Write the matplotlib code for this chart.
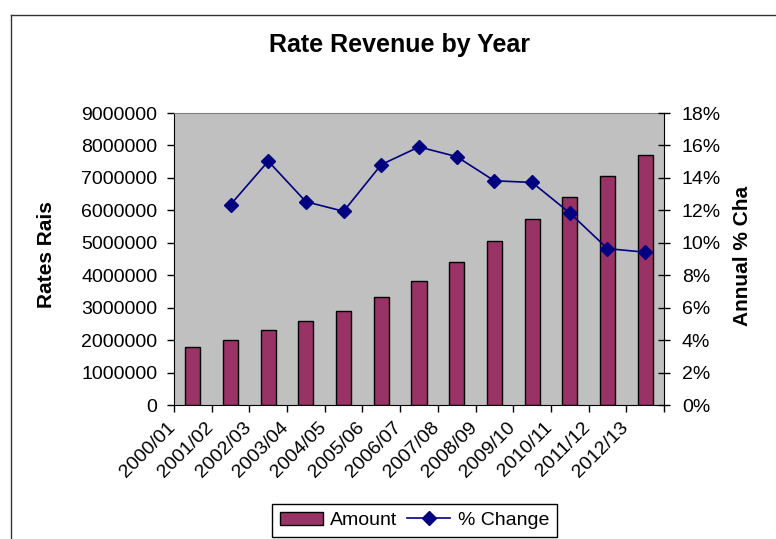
import numpy as np
import matplotlib
matplotlib.use('Agg')
import matplotlib.pyplot as plt
from matplotlib.lines import Line2D
from matplotlib.ticker import FuncFormatter
from matplotlib.transforms import ScaledTranslation

plt.rcParams['font.family'] = ['Liberation Sans', 'DejaVu Sans']

years = ['2000/01', '2001/02', '2002/03', '2003/04', '2004/05', '2005/06', '2006/07',
         '2007/08', '2008/09', '2009/10', '2010/11', '2011/12', '2012/13']
amount = [1790000, 2000000, 2300000, 2600000, 2900000, 3340000, 3830000,
          4420000, 5040000, 5730000, 6420000, 7060000, 7710000]
# % change starts at the second year
pct_change = [12.35, 15.03, 12.53, 11.94, 14.82, 15.91, 15.31, 13.82, 13.72, 11.84, 9.64, 9.42]

W, H = 776, 539
fig = plt.figure(figsize=(W / 100, H / 100), dpi=100)
ax = fig.add_axes([174 / W, 1 - 405 / H, 490 / W, 292 / H])
ax.set_facecolor('#C0C0C0')

x = np.arange(len(years))
bars = ax.bar(x, amount, width=0.4, color='#993366', edgecolor='black', lw=1,
              label='Amount', zorder=2)
ax.set_xlim(-0.5, len(years) - 0.5)
ax.set_ylim(0, 9000000)
ax.set_yticks(np.arange(0, 9000001, 1000000))
ax.yaxis.set_major_formatter(FuncFormatter(lambda v, p: f'{int(v)}'))
ax.tick_params(axis='y', direction='out', length=5, width=1, labelsize=14, pad=7)

# ticks at category boundaries, labels hung from them
ax.set_xticks(np.arange(-0.5, len(years), 1))
ax.set_xticklabels(years + [''], rotation=45, ha='right', va='top', fontsize=14)
ax.tick_params(axis='x', direction='out', length=5, width=1, pad=5)
off = ScaledTranslation(5 / 100, 0, fig.dpi_scale_trans)
for lab in ax.get_xticklabels():
    lab.set_transform(lab.get_transform() + off)

ax.spines['top'].set_color('#808080')
ax.spines['right'].set_visible(False)
ax.spines['left'].set_color('black')
ax.spines['bottom'].set_color('black')

ax2 = ax.twinx()
line, = ax2.plot(x[1:], pct_change, color='#000080', marker='D', ms=7, lw=1.2,
                 label='% Change', zorder=3)
ax2.set_ylim(0, 18)
ax2.set_yticks(np.arange(0, 19, 2))
ax2.yaxis.set_major_formatter(FuncFormatter(lambda v, p: f'{v:.0f}%'))
ax2.tick_params(axis='y', direction='inout', length=8.6, width=1, labelsize=14, pad=8.6)
for s in ['top', 'left', 'bottom']:
    ax2.spines[s].set_visible(False)
ax2.spines['right'].set_color('black')

fig.text(400 / W, 1 - 45 / H, 'Rate Revenue by Year', ha='center', va='center',
         fontsize=18, fontweight='bold')
fig.text(47 / W, 1 - 255 / H, 'Rates Rais', rotation=90, ha='center', va='center',
         fontsize=15, fontweight='bold')
fig.text(743 / W, 1 - 256 / H, 'Annual % Cha', rotation=90, ha='center', va='center',
         fontsize=15, fontweight='bold')

leg = fig.legend([bars, line], ['Amount', '% Change'], loc='upper left',
                 bbox_to_anchor=(272 / W, 1 - 504 / H), ncol=2, fontsize=14,
                 frameon=True, fancybox=False, edgecolor='black', framealpha=1,
                 handlelength=2.2, handleheight=0.67, handletextpad=0.4,
                 columnspacing=0.5, borderaxespad=0, borderpad=0.4)
leg.get_frame().set_linewidth(1)

# outer chart border (runs off the right and bottom of the image)
fig.add_artist(Line2D([11 / W, 11 / W], [0, 1 - 15 / H], transform=fig.transFigure,
                      color='#333333', lw=1))
fig.add_artist(Line2D([11 / W, 1], [1 - 15 / H, 1 - 15 / H], transform=fig.transFigure,
                      color='#333333', lw=1))

fig.savefig('out.png', dpi=100)
